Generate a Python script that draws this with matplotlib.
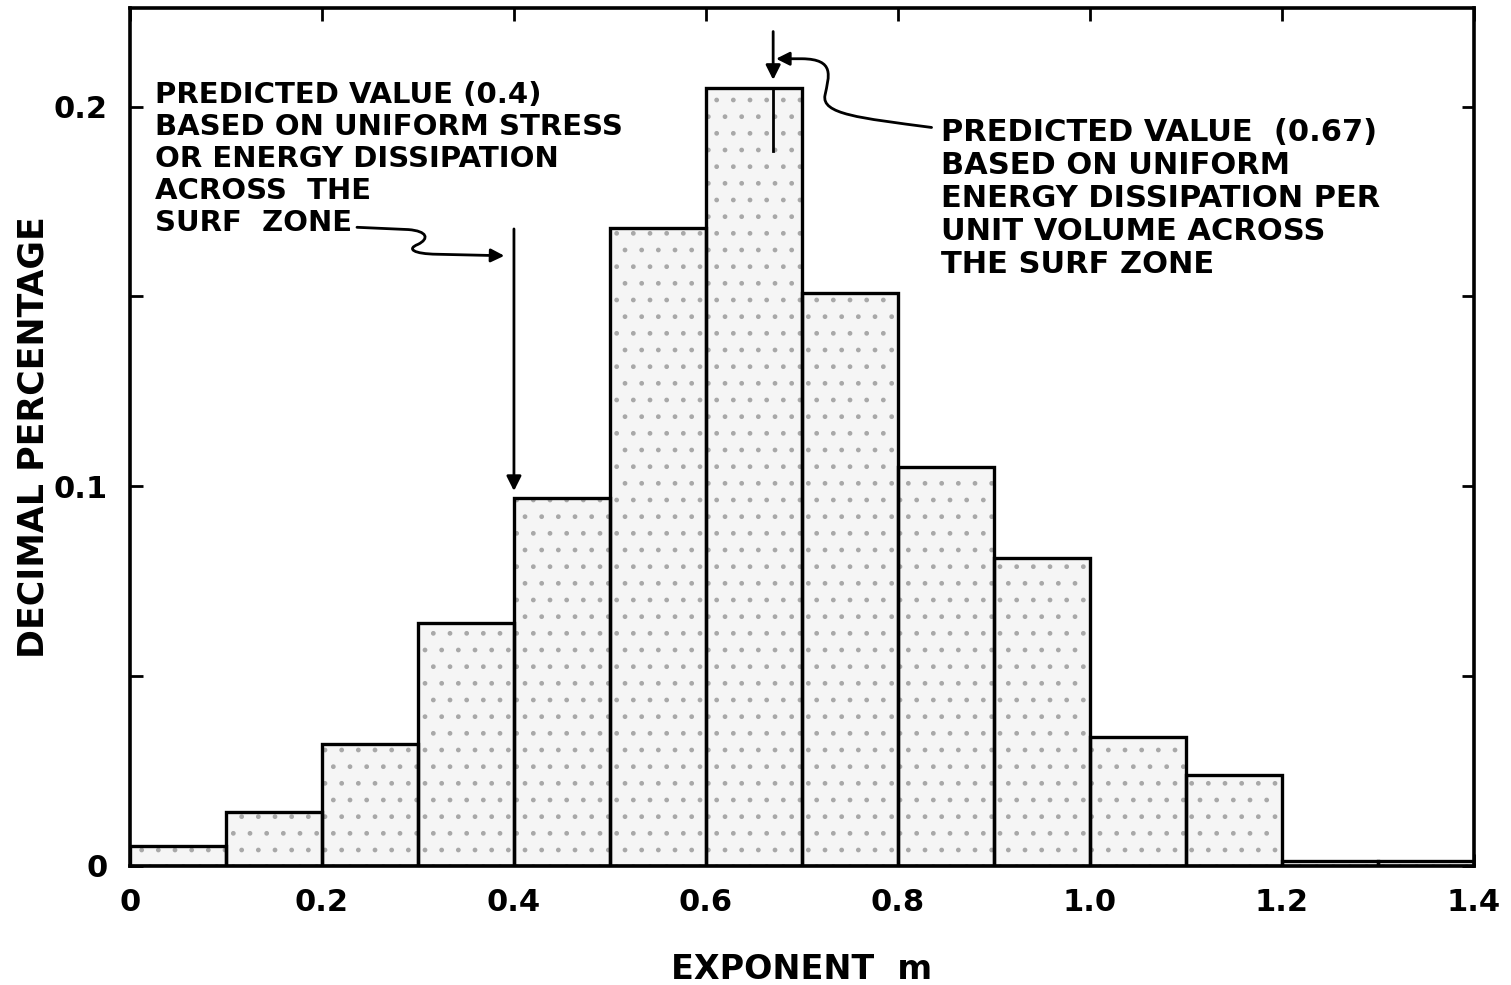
import matplotlib.pyplot as plt
from matplotlib.patches import FancyArrowPatch
from matplotlib.path import Path
import numpy as np

plt.rcParams['font.family'] = ['DejaVu Sans']
plt.rcParams['font.weight'] = 'bold'
plt.rcParams['axes.labelweight'] = 'bold'
plt.rcParams['hatch.linewidth'] = 1.0

# histogram of exponent m, bins of 0.1
bin_left = [0.0, 0.1, 0.2, 0.3, 0.4, 0.5, 0.6, 0.7, 0.8, 0.9, 1.0, 1.1, 1.2, 1.3]
frac = [0.0053, 0.0142, 0.032, 0.064, 0.097, 0.168, 0.205, 0.151, 0.105, 0.081, 0.034, 0.024, 0.0013, 0.0013]
bin_w = 0.1

xticks = [0, 0.2, 0.4, 0.6, 0.8, 1.0, 1.2, 1.4]
xlabels = ['0', '0.2', '0.4', '0.6', '0.8', '1.0', '1.2', '1.4']
yticks = [0, 0.05, 0.1, 0.15, 0.2]
ylabels = ['0', '', '0.1', '', '0.2']

m_uniform_stress = 0.4
m_uniform_volume = 0.67

fig = plt.figure(figsize=(15.11, 9.85), dpi=100)
ax = fig.add_axes([0.086, 0.121, 0.8895, 0.871])

# stippled fill, then black outlines
ax.bar(bin_left, frac, width=bin_w, align='edge', facecolor='#f5f5f5',
       edgecolor='#a8a8a8', hatch='.', linewidth=0)
ax.bar(bin_left, frac, width=bin_w, align='edge', facecolor='none',
       edgecolor='black', linewidth=2.4)

ax.set_xlim(0, 1.4)
ax.set_ylim(0, 0.226)
ax.set_xticks(xticks)
ax.set_xticklabels(xlabels)
ax.set_yticks(yticks)
ax.set_yticklabels(ylabels)
ax.tick_params(direction='in', length=9, width=2, labelsize=22,
               top=True, right=True, pad=16)
for s in ax.spines.values():
    s.set_linewidth(2.6)

ax.set_xlabel('EXPONENT  m', fontsize=24, labelpad=26)
ax.set_ylabel('DECIMAL PERCENTAGE', fontsize=25, labelpad=2)

# m = 0.4 annotation
ax.text(0.026, 0.2068,
        'PREDICTED VALUE (0.4)\nBASED ON UNIFORM STRESS\nOR ENERGY DISSIPATION\nACROSS  THE\nSURF  ZONE',
        fontsize=21, linespacing=1.18, va='top', ha='left')
ax.annotate('', xy=(m_uniform_stress, frac[4] + 0.001), xytext=(m_uniform_stress, 0.1685),
            arrowprops=dict(arrowstyle='-|>', color='black', lw=2, mutation_scale=22))
left_path = Path([(0.2365, 0.1682), (0.29, 0.1676),
                  (0.31, 0.1672), (0.312, 0.1652), (0.30, 0.1637),
                  (0.288, 0.1625), (0.295, 0.1612), (0.32, 0.1611),
                  (0.39, 0.1607)],
                 [Path.MOVETO, Path.LINETO,
                  Path.CURVE4, Path.CURVE4, Path.CURVE4,
                  Path.CURVE4, Path.CURVE4, Path.CURVE4,
                  Path.LINETO])
ax.add_patch(FancyArrowPatch(path=left_path, arrowstyle='-|>', color='black',
                             lw=2, mutation_scale=20))

# m = 0.67 annotation
ax.text(0.845, 0.197,
        'PREDICTED VALUE  (0.67)\nBASED ON UNIFORM\nENERGY DISSIPATION PER\nUNIT VOLUME ACROSS\nTHE SURF ZONE',
        fontsize=22, linespacing=1.17, va='top', ha='left')
ax.annotate('', xy=(m_uniform_volume, 0.2063), xytext=(m_uniform_volume, 0.2205),
            arrowprops=dict(arrowstyle='-|>', color='black', lw=2, mutation_scale=22))
ax.plot([m_uniform_volume, m_uniform_volume], [frac[6], 0.1884], color='black', lw=2)
right_path = Path([(0.835, 0.1945),
                   (0.76, 0.197), (0.72, 0.198), (0.724, 0.203),
                   (0.728, 0.208), (0.735, 0.2125), (0.70, 0.2126),
                   (0.673, 0.2126)],
                  [Path.MOVETO,
                   Path.CURVE4, Path.CURVE4, Path.CURVE4,
                   Path.CURVE4, Path.CURVE4, Path.CURVE4,
                   Path.LINETO])
ax.add_patch(FancyArrowPatch(path=right_path, arrowstyle='-|>', color='black',
                             lw=2, mutation_scale=20))

fig.savefig('out.png', dpi=100)
